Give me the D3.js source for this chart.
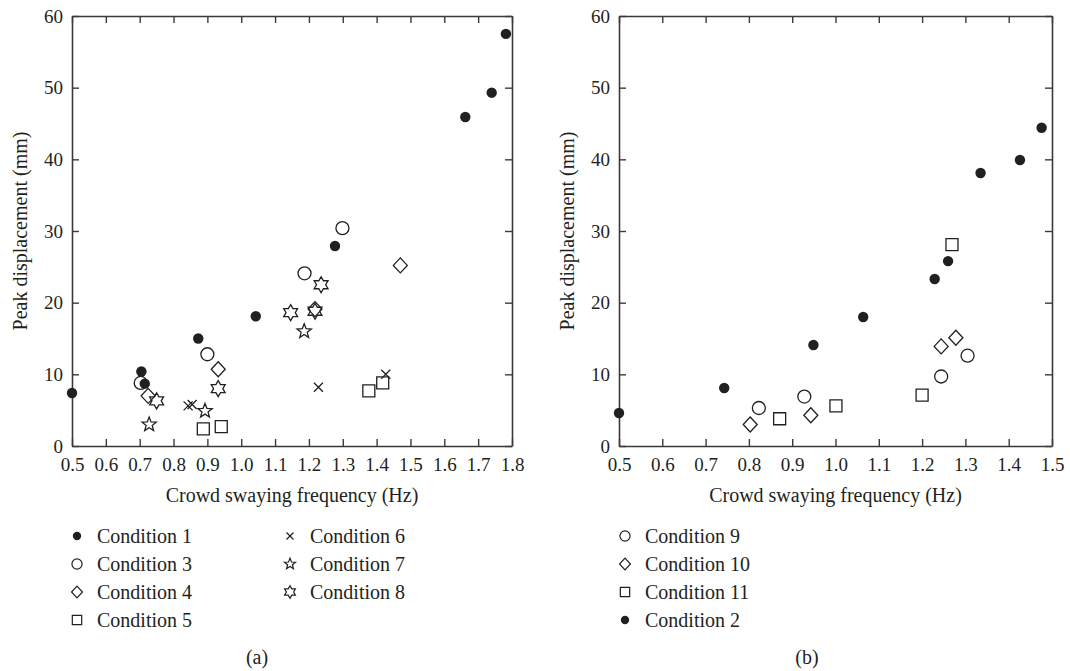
<!DOCTYPE html>
<html><head><meta charset="utf-8">
<script src="https://cdn.jsdelivr.net/npm/d3@7/dist/d3.min.js"></script>
<style>
body{margin:0;background:#fff;}
text{font-family:"Liberation Serif","Times New Roman",serif;fill:#231f20;}
</style></head>
<body><svg id="c" width="1070" height="671"></svg>
<script>
// ---- Panel (a) data ----
const c1x = [0.50, 0.705, 0.715, 0.873, 1.043, 1.277, 1.662, 1.740, 1.782];
const c1y = [7.4, 10.4, 8.7, 15.0, 18.1, 27.9, 45.9, 49.3, 57.5];
const c3x = [0.703, 0.900, 1.187, 1.299];
const c3y = [8.8, 12.8, 24.1, 30.4];
const c4x = [0.725, 0.932, 1.218, 1.470];
const c4y = [7.0, 10.7, 19.1, 25.2];
const c5x = [0.888, 0.941, 1.377, 1.418];
const c5y = [2.4, 2.7, 7.7, 8.8];
const c6x = [0.843, 0.855, 1.228, 1.427];
const c6y = [5.6, 5.8, 8.2, 10.0];
const c7x = [0.728, 0.893, 1.186];
const c7y = [3.0, 4.9, 16.0];
const c8x = [0.750, 0.932, 1.146, 1.218, 1.236];
const c8y = [6.3, 8.0, 18.6, 18.8, 22.5];
// ---- Panel (b) data ----
const c9x = [0.823, 0.928, 1.244, 1.305];
const c9y = [5.3, 6.9, 9.7, 12.6];
const c10x = [0.803, 0.943, 1.244, 1.278];
const c10y = [3.0, 4.3, 13.9, 15.1];
const c11x = [0.871, 1.001, 1.200, 1.269];
const c11y = [3.8, 5.6, 7.1, 28.1];
const c2x = [0.50, 0.743, 0.949, 1.064, 1.229, 1.260, 1.335, 1.426, 1.476];
const c2y = [4.6, 8.1, 14.1, 18.0, 23.3, 25.8, 38.1, 39.9, 44.4];

const xTicksA = [0.5,0.6,0.7,0.8,0.9,1.0,1.1,1.2,1.3,1.4,1.5,1.6,1.7,1.8];
const xTicksB = [0.5,0.6,0.7,0.8,0.9,1.0,1.1,1.2,1.3,1.4,1.5];
const yTicks = [0,10,20,30,40,50,60];
const xTitle = "Crowd swaying frequency (Hz)";
const yTitle = "Peak displacement (mm)";

const legendA = [
  {name:"Condition 1", shape:"dot"},
  {name:"Condition 3", shape:"circle"},
  {name:"Condition 4", shape:"diamond"},
  {name:"Condition 5", shape:"square"},
  {name:"Condition 6", shape:"cross"},
  {name:"Condition 7", shape:"star5"},
  {name:"Condition 8", shape:"star6"}
];
const legendB = [
  {name:"Condition 9", shape:"circle"},
  {name:"Condition 10", shape:"diamond"},
  {name:"Condition 11", shape:"square"},
  {name:"Condition 2", shape:"dot"}
];

const INK = "#231f20";
const svg = d3.select("#c");

function starPath(n, R, r){
  const pts=[];
  for(let i=0;i<2*n;i++){
    const a = -Math.PI/2 + i*Math.PI/n;
    const rad = i%2===0?R:r;
    pts.push([rad*Math.cos(a), rad*Math.sin(a)]);
  }
  return "M"+pts.map(p=>p[0].toFixed(2)+","+p[1].toFixed(2)).join("L")+"Z";
}
function shapePath(shape, s){
  // s = scale factor (1 for plot, smaller for legend)
  switch(shape){
    case "circle": { const r=6.5*s; return `M${r},0A${r},${r} 0 1,1 ${-r},0A${r},${r} 0 1,1 ${r},0Z`; }
    case "dot": { const r=5.2*s; return `M${r},0A${r},${r} 0 1,1 ${-r},0A${r},${r} 0 1,1 ${r},0Z`; }
    case "diamond": { const w=7*s, h=7.5*s; return `M0,${-h}L${w},0L0,${h}L${-w},0Z`; }
    case "square": { const a=6*s; return `M${-a},${-a}H${a}V${a}H${-a}Z`; }
    case "cross": { const a=4.5*s; return `M${-a},${-a}L${a},${a}M${-a},${a}L${a},${-a}`; }
    case "star5": return starPath(5, 7.5*s, 3.2*s);
    case "star6": return starPath(6, 8*s, 8*s/Math.sqrt(3));
  }
}
function drawMarks(g, xs, ys, shape, x, y, s=1){
  g.append("g").selectAll("path").data(xs.map((v,i)=>[v,ys[i]])).join("path")
    .attr("transform", d=>`translate(${x(d[0])},${y(d[1])})`)
    .attr("d", shapePath(shape, s))
    .attr("fill", shape==="dot"?INK:"none")
    .attr("stroke", INK)
    .attr("stroke-width", shape==="dot"?0:1.3)
    .attr("stroke-linejoin","miter");
}

function panel(x0, x1, xDom, xTicks, series, legend, legendCols, tag){
  const x = d3.scaleLinear().domain(xDom).range([x0, x1]);
  const y = d3.scaleLinear().domain([0,60]).range([446, 16]);
  const g = svg.append("g");
  const fmt = d3.format(".1f");
  const style = sel => { sel.select(".domain").attr("stroke","#3a3a3a").attr("stroke-width",1.6);
    sel.selectAll(".tick line").attr("stroke","#3a3a3a").attr("stroke-width",1.4);
    sel.selectAll("text").attr("font-size",19).attr("fill",INK).attr("font-family","Liberation Serif, serif"); };
  g.append("g").attr("transform","translate(0,446)")
    .call(d3.axisBottom(x).tickValues(xTicks).tickFormat(fmt).tickSizeInner(-7).tickSizeOuter(0).tickPadding(12)).call(style);
  g.append("g").attr("transform","translate(0,16)")
    .call(d3.axisTop(x).tickValues(xTicks).tickFormat("").tickSizeInner(-7).tickSizeOuter(0)).call(style);
  g.append("g").attr("transform",`translate(${x0},0)`)
    .call(d3.axisLeft(y).tickValues(yTicks).tickSizeInner(-7).tickSizeOuter(0).tickPadding(9)).call(style);
  g.append("g").attr("transform",`translate(${x1},0)`)
    .call(d3.axisRight(y).tickValues(yTicks).tickFormat("").tickSizeInner(-7).tickSizeOuter(0)).call(style);

  series.forEach(s=>drawMarks(g, s.x, s.y, s.shape, x, y));

  const cx = (x0+x1)/2;
  g.append("text").attr("x", cx).attr("y", 502).attr("text-anchor","middle").attr("font-size",20).text(xTitle);
  g.append("text").attr("transform",`translate(${x0-52},231) rotate(-90)`).attr("text-anchor","middle")
    .attr("dy","0.35em").attr("font-size",20).text(yTitle);
  g.append("text").attr("x", tag.x).attr("y", 664).attr("text-anchor","middle").attr("font-size",20).text(tag.t);

  // legend
  legend.forEach((d,i)=>{
    const col = legendCols.colOf(i), row = legendCols.rowOf(i);
    const sx = legendCols.sx[col], ty = 536 + row*28;
    g.append("path").attr("transform",`translate(${sx},${ty})`)
      .attr("d", shapePath(d.shape, d.shape==="dot"?0.8:0.78))
      .attr("fill", d.shape==="dot"?INK:"none").attr("stroke",INK)
      .attr("stroke-width", d.shape==="dot"?0:1.2);
    g.append("text").attr("x", sx+20).attr("y", ty).attr("dy","0.35em").attr("font-size",20).text(d.name);
  });
}

panel(72, 512, [0.5,1.8], xTicksA, [
  {x:c1x,y:c1y,shape:"dot"},
  {x:c3x,y:c3y,shape:"circle"},
  {x:c4x,y:c4y,shape:"diamond"},
  {x:c5x,y:c5y,shape:"square"},
  {x:c6x,y:c6y,shape:"cross"},
  {x:c7x,y:c7y,shape:"star5"},
  {x:c8x,y:c8y,shape:"star6"}
], legendA, {colOf:i=>i<4?0:1, rowOf:i=>i<4?i:i-4, sx:[77,290]}, {x:257,t:"(a)"});

panel(619, 1052, [0.5,1.5], xTicksB, [
  {x:c9x,y:c9y,shape:"circle"},
  {x:c10x,y:c10y,shape:"diamond"},
  {x:c11x,y:c11y,shape:"square"},
  {x:c2x,y:c2y,shape:"dot"}
], legendB, {colOf:i=>0, rowOf:i=>i, sx:[625]}, {x:807,t:"(b)"});
</script></body></html>
